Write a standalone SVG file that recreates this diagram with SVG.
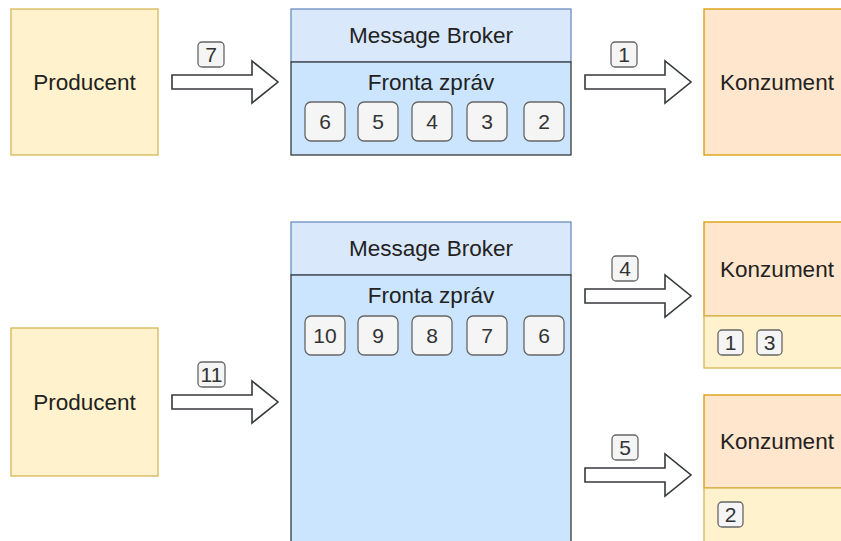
<svg xmlns="http://www.w3.org/2000/svg" width="841" height="541" viewBox="0 0 841 541">
<style>
text{font-family:"Liberation Sans",Arial,sans-serif;font-size:22.5px;fill:#222222;text-anchor:middle;dominant-baseline:central}
.prod{fill:#fff2cc;stroke:#d6b656;stroke-width:1.3}
.kon{fill:#ffe6cc;stroke:#d79b00;stroke-width:1.3}
.hdr{fill:#dae8fc;stroke:#6c8ebf;stroke-width:1.3}
.body{fill:#cce5ff;stroke:#36393d;stroke-width:1.3}
.msg{fill:#f5f5f5;stroke:#666666;stroke-width:1.3}
.arr{fill:#ffffff;stroke:#36393d;stroke-width:1.6;stroke-linejoin:miter}
.num{font-size:21px;fill:#333333}
</style>
<rect width="841" height="541" fill="#ffffff"/>

<g id="producent1">
<rect class="prod" x="11" y="9" width="147" height="146"/>
<text x="84.5" y="82">Producent</text>
</g>
<g id="broker1">
<rect class="hdr" x="291" y="9" width="280" height="53"/>
<rect class="body" x="291" y="62" width="280" height="93"/>
<text x="431" y="35.5">Message Broker</text>
<text x="431" y="82">Fronta zpráv</text>
<rect class="msg" x="305" y="102" width="40" height="39" rx="6"/><text class="num" x="325" y="121.5">6</text>
<rect class="msg" x="358" y="102" width="40" height="39" rx="6"/><text class="num" x="378" y="121.5">5</text>
<rect class="msg" x="412" y="102" width="40" height="39" rx="6"/><text class="num" x="432" y="121.5">4</text>
<rect class="msg" x="467" y="102" width="40" height="39" rx="6"/><text class="num" x="487" y="121.5">3</text>
<rect class="msg" x="524" y="102" width="40" height="39" rx="6"/><text class="num" x="544" y="121.5">2</text>
</g>
<g id="konzument1">
<rect class="kon" x="704" y="9" width="146" height="146"/>
<text x="777" y="82">Konzument</text>
</g>

<g id="producent2">
<rect class="prod" x="11" y="328" width="147" height="148"/>
<text x="84.5" y="402">Producent</text>
</g>
<g id="broker2">
<rect class="hdr" x="291" y="222" width="280" height="53"/>
<rect class="body" x="291" y="275" width="280" height="275"/>
<text x="431" y="248.5">Message Broker</text>
<text x="431" y="295">Fronta zpráv</text>
<rect class="msg" x="305" y="316" width="40" height="39" rx="6"/><text class="num" x="325" y="335.5">10</text>
<rect class="msg" x="358" y="316" width="40" height="39" rx="6"/><text class="num" x="378" y="335.5">9</text>
<rect class="msg" x="412" y="316" width="40" height="39" rx="6"/><text class="num" x="432" y="335.5">8</text>
<rect class="msg" x="467" y="316" width="40" height="39" rx="6"/><text class="num" x="487" y="335.5">7</text>
<rect class="msg" x="524" y="316" width="40" height="39" rx="6"/><text class="num" x="544" y="335.5">6</text>
</g>
<g id="konzument2">
<rect class="kon" x="704" y="222" width="146" height="94"/>
<rect class="prod" x="704" y="316" width="146" height="52"/>
<text x="777" y="269">Konzument</text>
<rect class="msg" x="718" y="330" width="25" height="25" rx="4"/><text class="num" x="730.5" y="342.5">1</text>
<rect class="msg" x="757" y="330" width="25" height="25" rx="4"/><text class="num" x="769.5" y="342.5">3</text>
</g>
<g id="konzument3">
<rect class="kon" x="704" y="395" width="146" height="93"/>
<rect class="prod" x="704" y="488" width="146" height="60"/>
<text x="777" y="441">Konzument</text>
<rect class="msg" x="718" y="502" width="25" height="25" rx="4"/><text class="num" x="730.5" y="514.5">2</text>
</g>

<g id="connectors">
<path class="arr" d="M172,75 L252,75 L252,61 L278,82 L252,103 L252,89 L172,89 Z"/>
<rect class="msg" x="198" y="42" width="26" height="25" rx="4"/><text class="num" x="211" y="54.5">7</text>
<path class="arr" d="M585,75 L665,75 L665,61 L691,82 L665,103 L665,89 L585,89 Z"/>
<rect class="msg" x="611" y="42" width="26" height="25" rx="4"/><text class="num" x="624" y="54.5">1</text>
<path class="arr" d="M172,395 L252,395 L252,381 L278,402 L252,423 L252,409 L172,409 Z"/>
<rect class="msg" x="198" y="362" width="27" height="25" rx="4"/><text class="num" x="211.5" y="374.5">11</text>
<path class="arr" d="M585,289 L665,289 L665,275 L691,296 L665,317 L665,303 L585,303 Z"/>
<rect class="msg" x="612" y="256" width="26" height="25" rx="4"/><text class="num" x="625" y="268.5">4</text>
<path class="arr" d="M585,468 L665,468 L665,454 L691,475 L665,496 L665,482 L585,482 Z"/>
<rect class="msg" x="612" y="435" width="26" height="25" rx="4"/><text class="num" x="625" y="447.5">5</text>
</g>
</svg>
